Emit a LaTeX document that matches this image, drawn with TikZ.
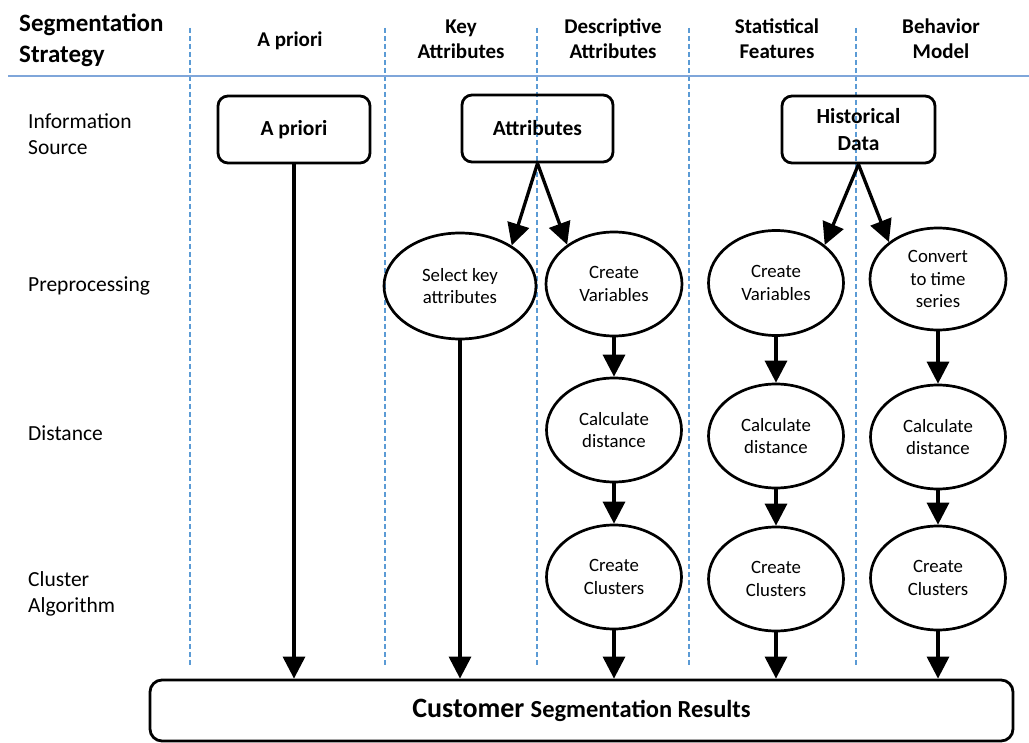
\documentclass[tikz,border=0pt]{standalone}
\usepackage{fontspec}
\setmainfont{Carlito}
\usetikzlibrary{arrows.meta,shapes.geometric}
\definecolor{dashblue}{HTML}{5B9BD5}
\definecolor{lineblue}{HTML}{7FA6DA}
\begin{document}
\begin{tikzpicture}[x=1pt,y=-1pt,
  hdrbig/.style={font=\fontsize{25}{31}\selectfont\bfseries, align=left, anchor=west, inner sep=0pt},
  hdr/.style={font=\fontsize{21}{25}\selectfont\bfseries, align=center, inner sep=0pt},
  lbl/.style={font=\fontsize{21.5}{26}\selectfont, align=left, anchor=west, inner sep=0pt},
  srcbox/.style={draw, line width=2.8pt, rounded corners=10pt, font=\fontsize{21.5}{27}\selectfont\bfseries, align=center, inner sep=0pt},
  proc/.style={draw, ellipse, line width=2.7pt, inner sep=0pt, minimum width=135pt, minimum height=104pt, font=\fontsize{18.8}{22.5}\selectfont, align=center},
  flow/.style={line width=3.3pt, -{Triangle[length=22pt,width=22pt]}},
  sep/.style={dashblue, line width=1.3pt, dash pattern=on 5pt off 3pt},
  hline/.style={lineblue, line width=2.6pt},
]
\useasboundingbox (0,0) rectangle (1029,743);
% column separators and header rule
\foreach \xx in {190,385,537,689,856} \draw[sep] (\xx,28) -- (\xx,665);
\draw[hline] (8,76) -- (1029,76);

% headers
\node[hdrbig] (hstrat) at (19,40) {Segmentation\\Strategy};
\node[hdr] (hapriori) at (290,41) {A priori};
\node[hdr] (hkey) at (461,39) {Key\\Attributes};
\node[hdr] (hdesc) at (613,39) {Descriptive\\Attributes};
\node[hdr] (hstat) at (777,39) {Statistical\\Features};
\node[hdr] (hbeh) at (941,39) {Behavior\\Model};

% row labels
\node[lbl] (linfo) at (28,134) {Information\\Source};
\node[lbl] (lpre) at (28,286) {Preprocessing};
\node[lbl] (ldist) at (28,433) {Distance};
\node[lbl] (lclus) at (28,594) {Cluster\\Algorithm};

% information sources
\node[srcbox, minimum width=152pt, minimum height=67pt] (apriori) at (294,129.5) {A priori};
\node[srcbox, minimum width=151pt, minimum height=67pt] (attr) at (537.5,128.5) {Attributes};
\node[srcbox, minimum width=153pt, minimum height=67pt] (hist) at (858.5,129.5) {Historical\\Data};

% processing ellipses
\node[proc, minimum width=152pt, minimum height=106pt] (sel) at (460,286) {Select key\\attributes};
\node[proc, minimum width=136pt] (dcv) at (614,284) {Create\\Variables};
\node[proc, minimum height=105pt] (scv) at (776,283) {Create\\Variables};
\node[proc, minimum width=136pt, minimum height=102pt] (conv) at (938,279) {Convert\\to time\\series};

\node[proc] (dcd) at (614,430) {Calculate\\distance};
\node[proc] (scd) at (776,436) {Calculate\\distance};
\node[proc] (bcd) at (938,437) {Calculate\\distance};

\node[proc] (dcc) at (614,577) {Create\\Clusters};
\node[proc] (scc) at (776,579) {Create\\Clusters};
\node[proc] (bcc) at (938,578) {Create\\Clusters};

% result
\node[draw, line width=2.8pt, rounded corners=12pt, minimum width=863pt, minimum height=61pt, inner sep=0pt] (res) at (581.5,710.5)
  {\bfseries\fontsize{28}{30}\selectfont Customer \fontsize{24.5}{30}\selectfont Segmentation Results};

% connectors
\draw[flow] (apriori.south) -- (apriori.south |- res.north);
\draw[flow] (attr.south) -- (sel.38);
\draw[flow] (attr.south) -- (dcv.140);
\draw[flow] (hist.south) -- (scv.38);
\draw[flow] (hist.south) -- (conv.143);
\draw[flow] (sel.south) -- (sel.south |- res.north);

\draw[flow] (dcv.south) -- (dcd.north);
\draw[flow] (dcd.south) -- (dcc.north);
\draw[flow] (dcc.south) -- (dcc.south |- res.north);

\draw[flow] (scv.south) -- (scd.north);
\draw[flow] (scd.south) -- (scc.north);
\draw[flow] (scc.south) -- (scc.south |- res.north);

\draw[flow] (conv.south) -- (bcd.north);
\draw[flow] (bcd.south) -- (bcc.north);
\draw[flow] (bcc.south) -- (bcc.south |- res.north);
\end{tikzpicture}
\end{document}
